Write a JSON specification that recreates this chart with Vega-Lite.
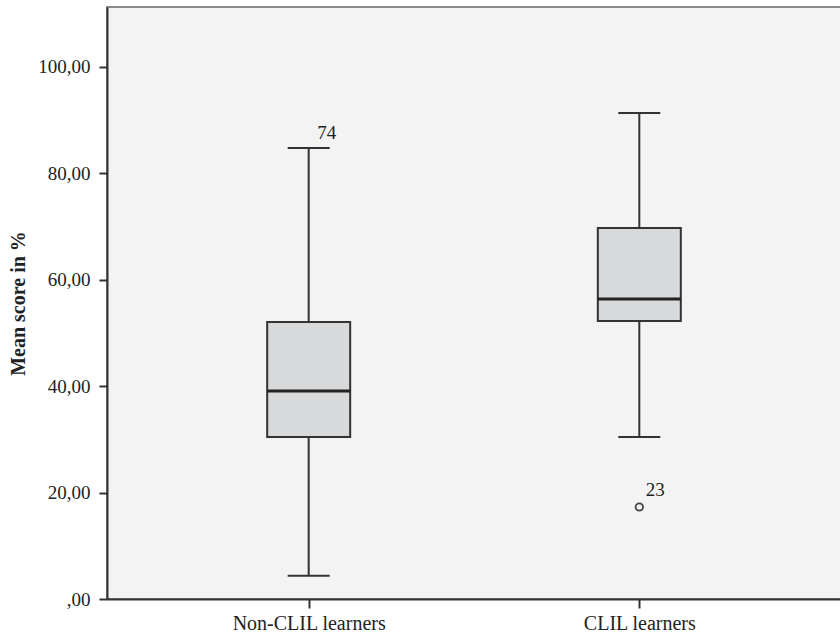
{
  "$schema": "https://vega.github.io/schema/vega-lite/v6.json",
  "width": 734,
  "height": 592,
  "autosize": {"type": "none"},
  "padding": {"left": 107, "top": 7, "right": 0, "bottom": 37},
  "background": "#ffffff",
  "config": {
    "view": {"fill": "#f3f3f3", "stroke": "#8a8a8a", "strokeWidth": 2},
    "font": "Liberation Serif"
  },
  "datasets": {
    "boxes": [
      {"group": "Non-CLIL learners", "lo": 4.38, "q1": 30.43, "med": 39.08, "q3": 52.04, "hi": 84.73},
      {"group": "CLIL learners", "lo": 30.43, "q1": 52.23, "med": 56.36, "q3": 69.7, "hi": 91.3}
    ],
    "outliers": [
      {"group": "CLIL learners", "value": 17.28, "label": "23"}
    ],
    "caplabels": [
      {"group": "Non-CLIL learners", "value": 84.73, "label": "74"}
    ]
  },
  "encoding": {
    "x": {
      "field": "group", "type": "nominal",
      "sort": ["Non-CLIL learners", "CLIL learners"],
      "scale": {"type": "point", "padding": 0.61},
      "axis": {
        "title": null, "labelAngle": 0, "labelFontSize": 20, "labelColor": "#222",
        "labelFont": "Liberation Serif", "labelPadding": 5,
        "domainColor": "#333", "domainWidth": 2, "tickColor": "#333", "tickWidth": 2, "tickSize": 9, "grid": false
      }
    }
  },
  "layer": [
    {
      "data": {"name": "boxes"},
      "mark": {"type": "rule", "stroke": "#333", "strokeWidth": 2},
      "encoding": {
        "y": {
          "field": "lo", "type": "quantitative",
          "scale": {"domain": [0, 111.2], "nice": false, "zero": true},
          "axis": {
            "title": "Mean score in %", "titleFontSize": 20, "titleFontWeight": "bold", "titleColor": "#222",
            "titleFont": "Liberation Serif", "titlePadding": 9,
            "values": [0, 20, 40, 60, 80, 100],
            "labelExpr": "datum.value == 0 ? ',00' : replace(format(datum.value, '.2f'), '.', ',')",
            "labelFontSize": 19, "labelColor": "#222", "labelFont": "Liberation Serif", "labelPadding": 9,
            "domainColor": "#333", "domainWidth": 2, "tickColor": "#333", "tickWidth": 2, "tickSize": 8, "grid": false
          }
        },
        "y2": {"field": "hi"}
      }
    },
    {
      "data": {"name": "boxes"},
      "mark": {"type": "bar", "width": 83, "fill": "#d8d9db", "stroke": "#333", "strokeWidth": 2},
      "encoding": {
        "y": {"field": "q1", "type": "quantitative"},
        "y2": {"field": "q3"}
      }
    },
    {
      "data": {"name": "boxes"},
      "mark": {"type": "tick", "size": 83, "thickness": 3, "color": "#222", "opacity": 1},
      "encoding": {"y": {"field": "med", "type": "quantitative"}}
    },
    {
      "data": {"name": "boxes"},
      "mark": {"type": "tick", "size": 42, "thickness": 2, "color": "#333", "opacity": 1},
      "encoding": {"y": {"field": "hi", "type": "quantitative"}}
    },
    {
      "data": {"name": "boxes"},
      "mark": {"type": "tick", "size": 42, "thickness": 2, "color": "#333", "opacity": 1},
      "encoding": {"y": {"field": "lo", "type": "quantitative"}}
    },
    {
      "data": {"name": "outliers"},
      "mark": {"type": "point", "shape": "circle", "size": 55, "filled": false, "stroke": "#444", "strokeWidth": 1.8, "opacity": 1},
      "encoding": {"y": {"field": "value", "type": "quantitative"}}
    },
    {
      "data": {"name": "outliers"},
      "mark": {"type": "text", "dx": 16, "dy": -17, "fontSize": 19, "color": "#222", "font": "Liberation Serif"},
      "encoding": {"y": {"field": "value", "type": "quantitative"}, "text": {"field": "label"}}
    },
    {
      "data": {"name": "caplabels"},
      "mark": {"type": "text", "dx": 18, "dy": -15, "fontSize": 19, "color": "#222", "font": "Liberation Serif"},
      "encoding": {"y": {"field": "value", "type": "quantitative"}, "text": {"field": "label"}}
    }
  ]
}
